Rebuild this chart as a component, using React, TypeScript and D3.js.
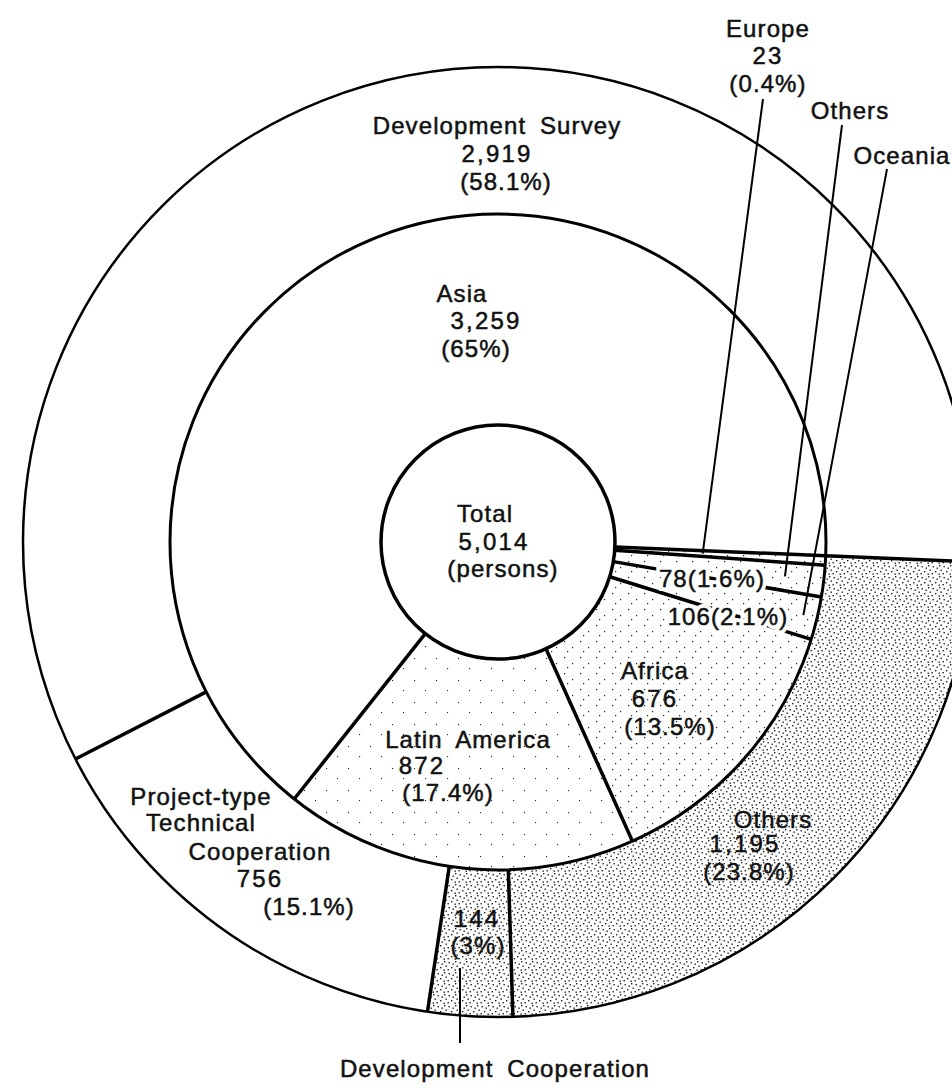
import * as d3 from 'd3';

// inner ring: trainees by region (clockwise from the east line)
const regionNames = ['Europe', 'Others', 'Oceania', 'Africa', 'Latin America', 'Asia'];
const regionValues = [23, 78, 106, 676, 872, 3259];
const regionShares = ['0.4%', '1.6%', '2.1%', '13.5%', '17.4%', '65%'];

// outer ring: trainees by type of cooperation
const typeNames = ['Others', 'Development Cooperation', 'Project-type Technical Cooperation', 'Development Survey'];
const typeValues = [1195, 144, 756, 2919];
const typeShares = ['23.8%', '3%', '15.1%', '58.1%'];

const W = 952;
const H = 1086;
const cx = 498;
const cy = 542;
const rHole = 117;
const rMid = 328;
const rOut = 475;
const startDeg = 92.4;

const regionFill = ['url(#light)', 'url(#light)', 'url(#light)', 'url(#light)', 'url(#faint)', '#fff'];
const typeFill = ['url(#heavy)', 'url(#heavy)', '#fff', '#fff'];

const heavyDots = [[1, 1], [5.5, 2], [2.5, 5.5], [8, 7], [4.5, 9], [9.5, 3.5], [0.5, 9.5]];
const lightDots = [[2, 3], [10, 9], [5, 13]];
const faintDots = [[4, 6], [15, 16]];

const fmt = d3.format(',');

function App() {
    const a0 = (startDeg * Math.PI) / 180;
    const pie = d3.pie<number>().sort(null).value((d) => d).startAngle(a0).endAngle(a0 + 2 * Math.PI);
    const inner = pie(regionValues);
    const outer = pie(typeValues);
    const arcIn = d3.arc<d3.PieArcDatum<number>>().innerRadius(rHole).outerRadius(rMid);
    const arcOut = d3.arc<d3.PieArcDatum<number>>().innerRadius(rMid).outerRadius(rOut);
    const pt = (a: number, r: number) => [cx + r * Math.sin(a), cy - r * Math.cos(a)];
    const mid = (s: d3.PieArcDatum<number>) => (s.startAngle + s.endAngle) / 2;
    const total = d3.sum(regionValues);

    const pct = (s: string) => `(${s})`;
    const blocks = [
        { lines: ['Total', fmt(total), '(persons)'], at: [[485, 522], [494, 550], [503, 577]] },
        { lines: [regionNames[5], fmt(regionValues[5]), pct(regionShares[5])], at: [[462, 302], [486, 329], [476, 357]] },
        { lines: [regionNames[4], fmt(regionValues[4]), pct(regionShares[4])], at: [[468, 748], [422, 774], [448, 801]] },
        { lines: [regionNames[3], fmt(regionValues[3]), pct(regionShares[3])], at: [[655, 679], [655, 707], [670, 735]] },
        { lines: [fmt(regionValues[2]) + pct(regionShares[2])], at: [[728, 625]], halo: true },
        { lines: [fmt(regionValues[1]) + pct(regionShares[1])], at: [[712, 587]], halo: true },
        { lines: [regionNames[0], fmt(regionValues[0]), pct(regionShares[0])], at: [[768, 37], [768, 64], [768, 92]] },
        { lines: [regionNames[1]], at: [[850, 119]] },
        { lines: [regionNames[2]], at: [[902, 164]] },
        { lines: [typeNames[3], fmt(typeValues[3]), pct(typeShares[3])], at: [[497, 134], [497, 162], [506, 190]] },
        { lines: ['Project-type', 'Technical', 'Cooperation', fmt(typeValues[2]), pct(typeShares[2])],
          at: [[201, 805], [201, 831], [260, 860], [260, 887], [309, 915]] },
        { lines: [typeNames[0], fmt(typeValues[0]), pct(typeShares[0])], at: [[773, 828], [745, 852], [749, 880]] },
        { lines: [fmt(typeValues[1]), pct(typeShares[1])], at: [[477, 927], [478, 954]] },
        { lines: [typeNames[1]], at: [[495, 1077]] },
    ];

    const leaders = [
        { from: [763, 99], to: pt(mid(inner[0]), 205) },
        { from: [842, 125], to: pt(mid(inner[1]), 289) },
        { from: [887, 169], to: pt(mid(inner[2]), 314) },
        { from: [460, 968], to: [460, 1043] },
    ];

    const dotPattern = (id: string, size: number, dots: number[][], d: number) => (
        <pattern id={id} width={size} height={size} patternUnits="userSpaceOnUse">
            <rect width={size} height={size} fill="#fff" />
            {dots.map((p, i) => (
                <rect key={i} x={p[0]} y={p[1]} width={d} height={d} fill="#222" />
            ))}
        </pattern>
    );

    return (
        <svg width={W} height={H} style={{ position: 'absolute', left: 0, top: 0, background: '#fff' }}
            fontFamily="'Liberation Sans', Arial, Helvetica, sans-serif" fontSize={24}>
            <defs>
                {dotPattern('heavy', 11, heavyDots, 1.4)}
                {dotPattern('light', 16, lightDots, 1.2)}
                {dotPattern('faint', 22, faintDots, 1.1)}
            </defs>
            <g transform={`translate(${cx},${cy})`}>
                {outer.map((s, i) => (
                    <path key={'o' + i} d={arcOut(s) as string} fill={typeFill[i]} />
                ))}
                {inner.map((s, i) => (
                    <path key={'i' + i} d={arcIn(s) as string} fill={regionFill[i]} />
                ))}
            </g>
            <circle cx={cx} cy={cy} r={rOut} fill="none" stroke="#000" strokeWidth={2.5} />
            <circle cx={cx} cy={cy} r={rMid} fill="none" stroke="#000" strokeWidth={3} />
            {outer.map((s, i) => {
                const p1 = pt(s.startAngle, rMid);
                const p2 = pt(s.startAngle, i === 0 ? rOut + 30 : rOut);
                return <line key={'ol' + i} x1={p1[0]} y1={p1[1]} x2={p2[0]} y2={p2[1]} stroke="#000" strokeWidth={3.5} />;
            })}
            {inner.map((s, i) => {
                const p1 = pt(s.startAngle, rHole);
                const p2 = pt(s.startAngle, rMid);
                return <line key={'il' + i} x1={p1[0]} y1={p1[1]} x2={p2[0]} y2={p2[1]} stroke="#000" strokeWidth={3.5} />;
            })}
            <circle cx={cx} cy={cy} r={rHole} fill="#fff" stroke="#000" strokeWidth={3.5} />
            {leaders.map((l, i) => (
                <line key={'ld' + i} x1={l.from[0]} y1={l.from[1]} x2={l.to[0]} y2={l.to[1]} stroke="#000" strokeWidth={2} />
            ))}
            {blocks.map((b, i) =>
                b.lines.map((t, j) => {
                    const ls = /^[\d,]+$/.test(t) ? 2.2 : 1.1;
                    return (
                        <g key={i + '-' + j}>
                            {b.halo && (
                                <text x={b.at[j][0]} y={b.at[j][1]} textAnchor="middle" letterSpacing={ls}
                                    fill="#fff" stroke="#fff" strokeWidth={8}>
                                    {t}
                                </text>
                            )}
                            <text x={b.at[j][0]} y={b.at[j][1]} textAnchor="middle" letterSpacing={ls}
                                wordSpacing={6} fill="#111" stroke="#111" strokeWidth={0.5}>
                                {t}
                            </text>
                        </g>
                    );
                })
            )}
        </svg>
    );
}

export default App;
